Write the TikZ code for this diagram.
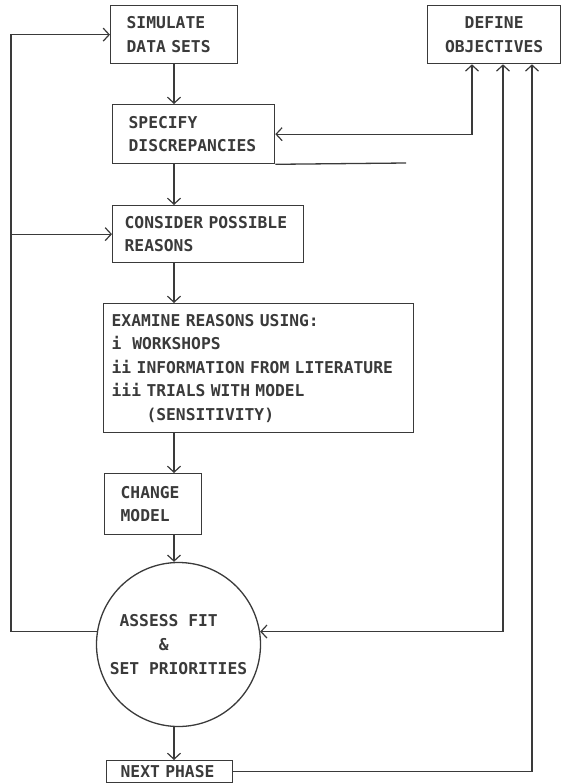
\documentclass[tikz,border=0pt]{standalone}
\usepackage{fontspec}
\setmonofont{DejaVu Sans Mono}
\usetikzlibrary{arrows.meta,positioning,calc}
\definecolor{ink}{HTML}{3A3A3A}
\tikzset{
  box/.style={draw=ink, line width=1.3pt, text=ink, font=\ttfamily\bfseries\fontsize{16.3}{23.5}\selectfont,
    align=left, anchor=north west, inner xsep=16pt, inner ysep=0pt},
  hub/.style={circle, draw=ink, line width=1.3pt, text=ink, font=\ttfamily\bfseries\fontsize{16.3}{24}\selectfont,
    align=left, minimum size=164pt, inner sep=0pt},
  flow/.style={-{Straight Barb[length=6pt,width=13pt]}, draw=ink, line width=1.2pt},
  both/.style={{Straight Barb[length=6pt,width=13pt]}-{Straight Barb[length=6pt,width=13pt]}, draw=ink, line width=1.2pt},
}

\begin{document}
\begin{tikzpicture}[x=1pt, y=-1pt]
  \useasboundingbox (0,0) rectangle (562,784);

  % main column
  \node[box, text width=95pt, minimum height=58pt] (sim) at (110,5) {SIMULATE\\DATA SETS};
  \node[box, text width=130pt, minimum height=59pt] (spec) at (112,104) {SPECIFY\\DISCREPANCIES};
  \node[box, inner xsep=12pt, text width=167pt, minimum height=57pt] (cons) at (112,205) {CONSIDER POSSIBLE\\REASONS};
  \node[box, inner xsep=8pt, text width=294pt, minimum height=129pt] (exam) at (103,303)
    {EXAMINE REASONS USING:\\i\ \ WORKSHOPS\\ii INFORMATION FROM LITERATURE\\iii TRIALS WITH MODEL\\\hphantom{iii} (SENSITIVITY)};
  \node[box, text width=65pt, minimum height=61pt] (chg) at (104,473) {CHANGE\\MODEL};
  \node[hub] (fit) at (178.5,644.5) {\hphantom{A}ASSESS FIT\\\hphantom{AAAAA}\&\\SET PRIORITIES};
  \node[box, inner xsep=14pt, text width=98pt, minimum height=22pt] (next) at (106,760) {NEXT PHASE};
  \node[box, align=center, text width=101pt, minimum height=58pt] (def) at (427,5) {DEFINE\\OBJECTIVES};

  \coordinate (spine) at (174,0);
  \coordinate (lx) at (11,0);
  \coordinate (c1) at (472,0);
  \coordinate (c2) at (503,0);
  \coordinate (c3) at (532,0);
  \coordinate (tail) at (406,163);

  % down the spine
  \draw[flow] (sim.south -| spine) -- (spec.north -| spine);
  \draw[flow] (spec.south -| spine) -- (cons.north -| spine);
  \draw[flow] (cons.south -| spine) -- (exam.north -| spine);
  \draw[flow] (exam.south -| spine) -- (chg.north -| spine);
  \draw[flow] (chg.south -| spine) -- (fit.north -| spine);
  \draw[flow] (fit.south -| spine) -- (next.north -| spine);

  % loop back on the left
  \draw[flow] (fit.171) -- (fit.171 -| lx) |- (sim.west);
  \draw[flow] (cons.west -| lx) -- (cons.west);

  % links to the objectives
  \draw[both] (spec.east) -| (def.south -| c1);
  \draw[both] (fit.9) -| (def.south -| c2);
  \draw[flow] (next.east) -| (def.south -| c3);
  \draw[ink, line width=1.3pt] (spec.south east) -- (tail);
\end{tikzpicture}
\end{document}
